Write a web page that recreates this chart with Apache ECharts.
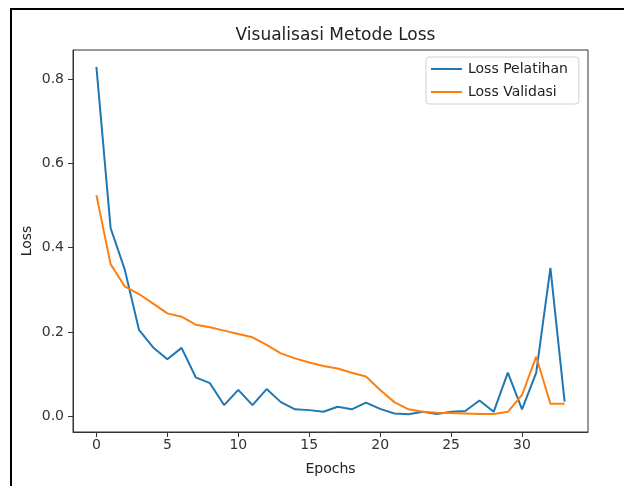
<!DOCTYPE html>
<html>
<head>
<meta charset="utf-8">
<script src="https://cdn.jsdelivr.net/npm/echarts@6/dist/echarts.min.js"></script>
<style>
html,body{margin:0;padding:0;background:#fff;}
#chart{width:624px;height:486px;}
</style>
</head>
<body>
<div id="chart"></div>
<script>
const epochs = [0,1,2,3,4,5,6,7,8,9,10,11,12,13,14,15,16,17,18,19,20,21,22,23,24,25,26,27,28,29,30,31,32,33];
const lossPelatihan = [0.830,0.447,0.348,0.205,0.163,0.135,0.162,0.092,0.078,0.026,0.062,0.026,0.064,0.033,0.016,0.014,0.010,0.022,0.016,0.032,0.017,0.006,0.004,0.010,0.005,0.010,0.012,0.037,0.010,0.103,0.016,0.103,0.352,0.034];
const lossValidasi = [0.525,0.361,0.308,0.290,0.267,0.244,0.236,0.217,0.211,0.203,0.195,0.187,0.169,0.149,0.137,0.127,0.119,0.113,0.103,0.094,0.062,0.033,0.016,0.010,0.008,0.007,0.006,0.005,0.005,0.010,0.050,0.141,0.029,0.029];
const xTicks = [0,5,10,15,20,25,30];
const yTicks = [0,0.2,0.4,0.6,0.8];
const seriesNames = ['Loss Pelatihan','Loss Validasi'];

const FONT = 'DejaVu Sans';
const chart = echarts.init(document.getElementById('chart'), null, {renderer:'canvas'});
chart.setOption({
  animation:false,
  backgroundColor:'#fff',
  title:{
    text:'Visualisasi Metode Loss',
    left:330.5, top:22, textAlign:'center',
    textStyle:{fontFamily:FONT,fontSize:17,fontWeight:'normal',color:'#222'}
  },
  graphic:[{
    type:'rect', silent:true,
    shape:{x:11,y:9,width:700,height:600},
    style:{fill:'none',stroke:'#000',lineWidth:2}
  }],
  legend:{
    orient:'vertical', left:426, top:57,
    padding:[5,11,5,5],
    itemWidth:31, itemHeight:2, itemGap:9,
    icon:'rect',
    backgroundColor:'#fff', borderColor:'#d0d0d0', borderWidth:1, borderRadius:3,
    textStyle:{fontFamily:FONT,fontSize:14,color:'#222',padding:[0,0,0,1]},
    data:seriesNames
  },
  grid:{left:73,top:50,width:515,height:382,show:true,borderColor:'#333',borderWidth:1,backgroundColor:'transparent'},
  xAxis:{
    type:'value', min:-1.65, max:34.65,
    name:'Epochs', nameLocation:'middle', nameGap:30, nameMoveOverlap:false,
    nameTextStyle:{fontFamily:FONT,fontSize:14,color:'#222'},
    axisLine:{show:true,onZero:false,lineStyle:{color:'#333'}},
    axisTick:{show:true,length:5,lineStyle:{color:'#333'},customValues:xTicks},
    axisLabel:{fontFamily:FONT,fontSize:14,color:'#333',margin:6,customValues:xTicks,formatter:v=>String(v)},
    splitLine:{show:false}
  },
  yAxis:{
    type:'value', min:-0.038, max:0.870,
    name:'Loss', nameLocation:'middle', nameGap:39, nameRotate:90, nameMoveOverlap:false,
    nameTextStyle:{fontFamily:FONT,fontSize:14,color:'#222'},
    axisLine:{show:true,onZero:false,lineStyle:{color:'#333'}},
    axisTick:{show:true,length:5,lineStyle:{color:'#333'},customValues:yTicks},
    axisLabel:{fontFamily:FONT,fontSize:14,color:'#333',margin:9,customValues:yTicks,formatter:v=>v.toFixed(1)},
    splitLine:{show:false}
  },
  series:[
    {name:seriesNames[0],type:'line',data:epochs.map((e,i)=>[e,lossPelatihan[i]]),showSymbol:false,symbol:'none',
     lineStyle:{color:'#1f77b4',width:2},itemStyle:{color:'#1f77b4'}},
    {name:seriesNames[1],type:'line',data:epochs.map((e,i)=>[e,lossValidasi[i]]),showSymbol:false,symbol:'none',
     lineStyle:{color:'#ff7f0e',width:2},itemStyle:{color:'#ff7f0e'}}
  ]
});
</script>
</body>
</html>
